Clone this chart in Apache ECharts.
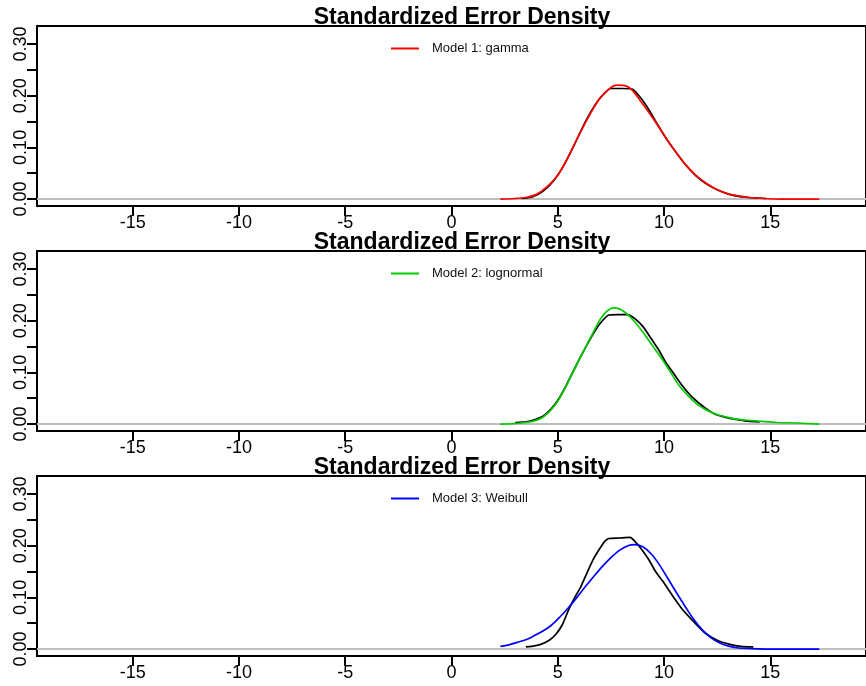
<!DOCTYPE html>
<html>
<head>
<meta charset="utf-8">
<script src="https://cdn.jsdelivr.net/npm/echarts@6/dist/echarts.min.js"></script>
<style>
  html, body { margin: 0; padding: 0; background: #fff; }
  #chart { width: 866px; height: 686px; }
</style>
</head>
<body>
<div id="chart"></div>
<script>
// density curves, [x, density]
const observed1 = [[3.3,0.001],[3.8,0.004],[4.3,0.015],[4.8,0.035],[5.3,0.066],[5.8,0.107],[6.3,0.150],[6.8,0.185],[7.2,0.205],[7.5,0.214],[8.0,0.214],[8.5,0.213],[8.9,0.196],[9.3,0.172],[9.7,0.144],[10.1,0.117],[10.5,0.094],[11.0,0.067],[11.5,0.045],[12.0,0.029],[12.5,0.018],[13.0,0.010],[13.5,0.005],[14.0,0.003],[14.8,0.001]];
const gammaFit = [[2.3,0],[3.0,0.001],[3.5,0.003],[4.0,0.009],[4.5,0.024],[5.0,0.046],[5.5,0.082],[6.0,0.124],[6.5,0.163],[7.0,0.196],[7.5,0.216],[7.8,0.2205],[8.2,0.219],[8.5,0.211],[9.0,0.184],[9.5,0.155],[10.0,0.124],[10.5,0.094],[11.0,0.067],[11.5,0.046],[12.0,0.030],[12.5,0.018],[13.0,0.010],[13.5,0.006],[14.0,0.003],[14.7,0.001],[15.5,0],[17.3,0]];

const observed2 = [[3.0,0.003],[3.5,0.004],[3.9,0.008],[4.3,0.015],[4.7,0.030],[5.0,0.046],[5.4,0.075],[5.8,0.108],[6.2,0.140],[6.6,0.170],[7.0,0.195],[7.4,0.211],[7.8,0.212],[8.3,0.212],[8.6,0.205],[9.0,0.189],[9.4,0.165],[9.8,0.140],[10.1,0.118],[10.5,0.095],[10.9,0.072],[11.3,0.053],[11.9,0.032],[12.4,0.019],[12.9,0.013],[13.4,0.009],[13.8,0.006],[14.5,0.004]];
const lognormalFit = [[2.3,0],[3.0,0.001],[3.5,0.003],[3.9,0.006],[4.3,0.013],[4.7,0.028],[5.1,0.051],[5.5,0.082],[5.9,0.116],[6.3,0.148],[6.7,0.180],[7.0,0.203],[7.3,0.218],[7.6,0.225],[7.9,0.223],[8.2,0.215],[8.6,0.199],[9.0,0.178],[9.4,0.155],[9.9,0.126],[10.3,0.101],[10.7,0.075],[11.2,0.052],[11.6,0.037],[12.1,0.025],[12.6,0.017],[13.1,0.012],[13.5,0.009],[14.0,0.007],[14.6,0.005],[15.3,0.003],[16.3,0.002],[17.3,0]];

const observed3 = [[3.5,0.004],[3.9,0.006],[4.2,0.009],[4.6,0.017],[4.9,0.028],[5.2,0.046],[5.5,0.075],[5.8,0.100],[6.1,0.122],[6.4,0.150],[6.7,0.176],[7.0,0.196],[7.2,0.208],[7.4,0.214],[7.9,0.215],[8.4,0.216],[8.7,0.205],[9.0,0.190],[9.3,0.172],[9.6,0.150],[10.0,0.128],[10.4,0.103],[10.8,0.080],[11.3,0.057],[11.9,0.032],[12.5,0.017],[13.1,0.009],[13.6,0.005],[14.2,0.004]];
const weibullFit = [[2.3,0.005],[2.7,0.008],[3.1,0.013],[3.5,0.018],[3.9,0.026],[4.3,0.035],[4.7,0.046],[5.1,0.062],[5.5,0.080],[5.9,0.100],[6.3,0.121],[6.7,0.141],[7.1,0.160],[7.5,0.177],[7.9,0.191],[8.3,0.200],[8.6,0.202],[9.0,0.198],[9.4,0.184],[9.8,0.162],[10.2,0.135],[10.6,0.108],[11.0,0.082],[11.4,0.057],[11.8,0.037],[12.2,0.022],[12.6,0.012],[13.0,0.006],[13.5,0.002],[14.0,0.001],[15.0,0],[17.3,0]];

const modelNames = ['Model 1: gamma', 'Model 2: lognormal', 'Model 3: Weibull'];
const modelColors = ['#ff0000', '#00cc00', '#0000ff'];
const xTicks = [-15, -10, -5, 0, 5, 10, 15];
const yTicks = [0, 0.05, 0.1, 0.15, 0.2, 0.25, 0.3];
const yLabels = [0, 0.1, 0.2, 0.3];
const chartTitle = 'Standardized Error Density';

const panels = [
  {obs: observed1, fit: gammaFit},
  {obs: observed2, fit: lognormalFit},
  {obs: observed3, fit: weibullFit}
];

const FONT = '"Liberation Sans", Arial, sans-serif';
const left = 37, plotW = 838.5, plotH = 180, step = 225, top0 = 26;

const grid = [], xAxis = [], yAxis = [], series = [], title = [], legend = [];

panels.forEach(function (p, i) {
  const top = top0 + i * step;
  grid.push({
    left: left, top: top, width: plotW, height: plotH,
    show: true, borderColor: '#000', borderWidth: 2, backgroundColor: '#fff'
  });
  xAxis.push({
    type: 'value', gridIndex: i, min: -19.5, max: 19.5,
    axisLine: {show: false, onZero: false},
    axisTick: {show: true, inside: false, length: 10, customValues: xTicks,
      lineStyle: {color: '#000', width: 2}},
    axisLabel: {customValues: xTicks, margin: 8, color: '#000', fontSize: 18, fontFamily: FONT},
    splitLine: {show: false}
  });
  yAxis.push({
    type: 'value', gridIndex: i, min: -0.0135, max: 0.335,
    axisLine: {show: false, onZero: false},
    axisTick: {show: true, inside: false, length: 10, customValues: yTicks,
      lineStyle: {color: '#000', width: 2}},
    axisLabel: {customValues: yLabels, rotate: 90, margin: 7, color: '#000', fontSize: 18, fontFamily: FONT,
      formatter: function (v) { return v.toFixed(2); }},
    splitLine: {show: false}
  });
  title.push({
    text: chartTitle, left: 457, top: top - 25, textAlign: 'center',
    textStyle: {fontSize: 23, fontWeight: 'bold', color: '#000', fontFamily: FONT}
  });
  legend.push({
    data: [modelNames[i]], left: 391, top: top + 16,
    icon: 'rect', itemWidth: 28, itemHeight: 2, padding: 0,
    selectedMode: false,
    textStyle: {fontSize: 13, color: '#111', fontFamily: FONT, padding: [0, 0, 0, 8]}
  });
  // grey zero line, drawn underneath the curves
  series.push({
    type: 'line', name: 'zero' + (i + 1), xAxisIndex: i, yAxisIndex: i,
    data: [], z: 1,
    markLine: {
      silent: true, symbol: 'none', label: {show: false}, z: 1,
      lineStyle: {color: '#bebebe', width: 2, type: 'solid'},
      data: [{yAxis: 0}]
    }
  });
  series.push({
    type: 'line', name: 'observed' + (i + 1), xAxisIndex: i, yAxisIndex: i,
    data: p.obs, showSymbol: false, smooth: 0.2, z: 3,
    lineStyle: {color: '#000', width: 1.7}, itemStyle: {color: '#000'}
  });
  series.push({
    type: 'line', name: modelNames[i], xAxisIndex: i, yAxisIndex: i,
    data: p.fit, showSymbol: false, smooth: 0.3, z: 4,
    lineStyle: {color: modelColors[i], width: 1.7}, itemStyle: {color: modelColors[i]}
  });
});

const chart = echarts.init(document.getElementById('chart'), null, {renderer: 'canvas'});
chart.setOption({
  animation: false,
  backgroundColor: '#fff',
  title: title,
  legend: legend,
  grid: grid,
  xAxis: xAxis,
  yAxis: yAxis,
  series: series
});
</script>
</body>
</html>
